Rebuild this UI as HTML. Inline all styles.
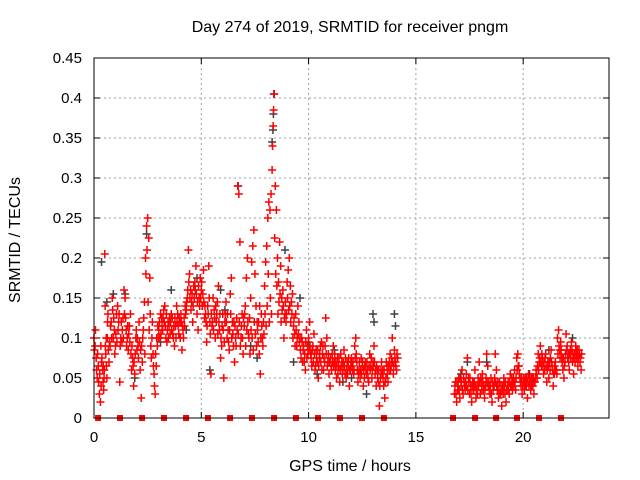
<!DOCTYPE html>
<html><head><meta charset="utf-8"><style>
html,body{margin:0;padding:0;background:#fff;}
svg{display:block;font-family:"Liberation Sans",sans-serif;}
</style></head><body>
<svg id="chart" width="640" height="480" viewBox="0 0 640 480" xmlns="http://www.w3.org/2000/svg">
<rect width="640" height="480" fill="#fff"/>
<text x="350" y="32" font-size="16" text-anchor="middle">Day 274 of 2019, SRMTID for receiver pngm</text>
<text x="0" y="0" font-size="16" text-anchor="middle" transform="translate(20,240) rotate(-90)">SRMTID / TECUs</text>
<text x="350" y="471" font-size="16" text-anchor="middle">GPS time / hours</text>
<g id="grid"></g>
<g id="ticks"></g>
<g id="gray"></g>
<g id="red"></g>
<g id="sq"></g>
<rect x="94" y="58" width="515" height="360" fill="none" stroke="#000" stroke-width="1"/>
</svg>
<script>
const xTicks=[0,5,10,15,20];
const yTicks=[0,0.05,0.1,0.15,0.2,0.25,0.3,0.35,0.4,0.45];
const yTickLabels=["0","0.05","0.1","0.15","0.2","0.25","0.3","0.35","0.4","0.45"];
const redT=[0.0,0.05,0.1,0.15,0.2,0.25,0.3,0.32,0.35,0.4,0.42,0.45,0.48,0.5,0.52,0.55,0.58,0.6,0.62,0.65,0.7,0.75,0.8,0.85,0.9,0.95,1.0,1.05,1.1,1.15,1.2,1.25,1.3,1.35,1.4,1.45,1.5,1.55,1.6,1.65,1.7,1.75,1.8,1.85,1.9,1.95,2.0,2.05,2.1,2.15,2.2,2.25,2.3,2.35,2.4,2.45,2.5,2.55,2.6,2.65,2.7,2.75,2.8,2.85,2.9,2.95,3.0,3.05,3.1,3.15,3.2,3.25,3.3,3.35,3.4,3.45,3.5,3.55,3.6,3.65,3.7,3.75,3.8,3.85,3.9,3.95,4.0,4.05,4.1,4.15,4.2,4.25,4.3,4.35,4.4,4.45,4.5,4.55,4.6,4.65,4.7,4.75,4.8,4.85,4.9,4.95,5.0,5.05,5.1,5.15,5.2,5.25,5.3,5.35,5.4,5.45,5.5,5.55,5.6,5.65,5.7,5.75,5.8,5.85,5.9,5.95,6.0,6.05,6.1,6.15,6.2,6.25,6.3,6.35,6.4,6.45,6.5,6.55,6.6,6.65,6.7,6.75,6.8,6.85,6.9,6.95,7.0,7.05,7.1,7.15,7.2,7.25,7.3,7.35,7.4,7.45,7.5,7.55,7.6,7.65,7.7,7.75,7.8,7.85,7.9,7.95,8.0,8.05,8.1,8.15,8.2,8.25,8.3,8.32,8.35,8.37,8.4,8.45,8.5,8.55,8.6,8.65,8.7,8.75,8.8,8.85,8.9,8.95,9.0,9.05,9.1,9.15,9.2,9.25,9.3,9.35,9.4,9.45,9.5,9.55,9.6,9.65,9.7,9.75,9.8,9.85,9.9,9.95,10.0,10.05,10.1,10.15,10.2,10.25,10.3,10.35,10.4,10.45,10.5,10.55,10.6,10.65,10.7,10.75,10.8,10.85,10.9,10.95,11.0,11.05,11.1,11.15,11.2,11.25,11.3,11.35,11.4,11.45,11.5,11.55,11.6,11.65,11.7,11.75,11.8,11.85,11.9,11.95,12.0,12.05,12.1,12.15,12.2,12.25,12.3,12.35,12.4,12.45,12.5,12.55,12.6,12.65,12.7,12.75,12.8,12.85,12.9,12.95,13.0,13.05,13.1,13.15,13.2,13.25,13.3,13.35,13.4,13.45,13.5,13.55,13.6,13.65,13.7,13.75,13.8,13.85,13.9,13.95,14.0,14.05,14.1,14.15,
16.8,16.85,16.9,16.95,17.0,17.05,17.1,17.15,17.2,17.25,17.3,17.35,17.4,17.45,17.5,17.55,17.6,17.65,17.7,17.75,17.8,17.85,17.9,17.95,18.0,18.05,18.1,18.15,18.2,18.25,18.3,18.35,18.4,18.45,18.5,18.55,18.6,18.65,18.7,18.75,18.8,18.85,18.9,18.95,19.0,19.05,19.1,19.15,19.2,19.25,19.3,19.35,19.4,19.45,19.5,19.55,19.6,19.65,19.7,19.75,19.8,19.85,19.9,19.95,20.0,20.05,20.1,20.15,20.2,20.25,20.3,20.35,20.4,20.45,20.5,20.55,20.6,20.65,20.7,20.75,20.8,20.85,20.9,20.95,21.0,21.05,21.1,21.15,21.2,21.25,21.3,21.35,21.4,21.45,21.5,21.55,21.6,21.65,21.7,21.75,21.8,21.85,21.9,21.95,22.0,22.05,22.1,22.15,22.2,22.25,22.3,22.35,22.4,22.45,22.5,22.55,22.6,22.65,22.7,22.72];
const redV=[.1,.09,.075,.05,.065,.03,.02,.09,.07,.06,.045,.035,.06,.205,.14,.08,.065,.05,.1,.13,.07,.09,.12,.15,.1,.11,.09,.13,.14,.12,.045,.1,.095,.125,.16,.15,.11,.1,.085,.115,.13,.06,.075,.04,.055,.1,.085,.09,.12,.06,.025,.07,.11,.145,.2,.24,.25,.225,.175,.09,.1,.08,.055,.03,.065,.09,.1,.12,.13,.125,.11,.135,.14,.1,.095,.12,.115,.105,.13,.125,.1,.09,.115,.14,.13,.105,.12,.13,.085,.11,.125,.14,.135,.15,.21,.18,.16,.145,.12,.165,.17,.19,.13,.11,.15,.175,.16,.14,.185,.125,.13,.095,.14,.19,.12,.055,.115,.15,.135,.1,.12,.145,.165,.11,.075,.09,.13,.05,.12,.145,.1,.11,.085,.155,.175,.12,.09,.07,.1,.125,.29,.28,.22,.1,.13,.08,.115,.14,.175,.2,.105,.125,.15,.195,.215,.235,.18,.14,.12,.095,.08,.055,.13,.1,.12,.165,.195,.215,.25,.27,.26,.28,.31,.34,.365,.385,.405,.29,.26,.2,.17,.22,.19,.15,.16,.1,.13,.12,.17,.185,.2,.165,.145,.155,.115,.105,.13,.09,.14,.12,.1,.075,.095,.085,.07,.06,.11,.09,.1,.12,.08,.065,.09,.105,.06,.085,.07,.05,.075,.09,.095,.08,.06,.07,.125,.1,.07,.055,.04,.065,.08,.09,.07,.06,.05,.075,.065,.045,.08,.07,.06,.085,.055,.05,.07,.065,.04,.06,.075,.06,.055,.09,.1,.07,.045,.06,.05,.075,.065,.04,.05,.07,.055,.06,.045,.08,.065,.05,.07,.09,.055,.04,.06,.045,.015,.05,.07,.06,.04,.025,.05,.065,.045,.06,.08,.065,.1,.055,.085,.07,.06,.075,
.03,.045,.02,.035,.05,.025,.04,.06,.03,.045,.035,.055,.075,.05,.03,.04,.02,.045,.035,.06,.025,.04,.05,.07,.03,.045,.055,.035,.025,.04,.08,.065,.045,.03,.05,.02,.035,.04,.08,.06,.035,.025,.045,.03,.015,.04,.05,.03,.02,.035,.045,.03,.055,.04,.035,.05,.06,.035,.075,.08,.065,.05,.04,.03,.045,.035,.05,.04,.025,.055,.045,.035,.05,.04,.03,.045,.06,.05,.08,.07,.09,.065,.075,.055,.06,.08,.045,.07,.05,.06,.085,.065,.04,.055,.07,.06,.1,.11,.085,.095,.075,.06,.05,.07,.105,.09,.08,.06,.085,.095,.07,.055,.08,.09,.075,.065,.085,.07,.06,.08];
const redT2=[0.02,0.07,0.12,0.17,0.22,0.27,0.33,0.37,0.43,0.47,0.53,0.57,0.63,0.67,0.72,0.77,0.82,0.87,0.92,0.97,1.02,1.07,1.12,1.17,1.22,1.27,1.32,1.37,1.42,1.47,1.52,1.57,1.62,1.67,1.72,1.77,1.82,1.87,1.92,1.97,2.02,2.07,2.12,2.17,
2.22,2.27,2.32,2.37,2.42,2.47,2.52,2.57,2.62,2.67,2.72,2.77,2.82,2.87,2.92,2.97,3.02,3.07,3.12,3.17,3.22,3.27,3.32,3.37,3.42,3.47,3.52,3.57,3.62,3.67,3.72,3.77,3.82,3.87,3.92,3.97,4.02,4.07,4.12,4.17,
4.22,4.27,4.32,4.37,4.42,4.47,4.52,4.57,4.62,4.67,4.72,4.77,4.82,4.87,4.92,4.97,5.02,5.07,5.12,5.17,5.22,5.27,5.32,5.37,5.42,5.47,5.52,5.57,5.62,5.67,5.72,5.77,5.82,5.87,5.92,5.97,6.02,6.07,6.12,6.17,
6.22,6.27,6.32,6.37,6.42,6.47,6.52,6.57,6.62,6.67,6.72,6.77,6.82,6.87,6.92,6.97,7.02,7.07,7.12,7.17,7.22,7.27,7.32,7.37,7.42,7.47,7.52,7.57,7.62,7.67,7.72,7.77,7.82,7.87,7.92,7.97,8.02,8.07,8.12,8.17,
8.22,8.27,8.42,8.47,8.52,8.57,8.62,8.67,8.72,8.77,8.82,8.87,8.92,8.97,9.02,9.07,9.12,9.17,9.22,9.27,9.32,9.37,9.42,9.47,9.52,9.57,9.62,9.67,9.72,9.77,9.82,9.87,9.92,9.97,10.02,10.07,10.12,10.17,10.22,10.27,10.32,10.37,10.42,10.47,10.52,10.57,10.62,10.67,10.72,10.77,10.82,10.87,10.92,10.97,11.02,11.07,11.12,11.17,11.22,11.27,11.32,11.37,11.42,11.47,11.52,11.57,11.62,11.67,11.72,11.77,11.82,11.87,11.92,11.97,12.02,12.07,12.12,12.17,12.22,12.27,12.32,12.37,12.42,12.47,12.52,12.57,12.62,12.67,12.72,12.77,12.82,12.87,12.92,12.97,13.02,13.07,13.12,13.17,13.22,13.27,13.32,13.37,13.42,13.47,13.52,13.57,13.62,13.67,13.72,13.77,13.82,13.87,13.92,13.97,14.02,14.07,14.12,
16.82,16.87,16.92,16.97,17.02,17.07,17.12,17.17,17.22,17.27,17.32,17.37,17.42,17.47,17.52,17.57,17.62,17.67,17.72,17.77,17.82,17.87,17.92,17.97,18.02,18.07,18.12,18.17,18.22,18.27,18.32,18.37,18.42,18.47,18.52,18.57,18.62,18.67,18.72,18.77,18.82,18.87,18.92,18.97,19.02,19.07,19.12,19.17,19.22,19.27,19.32,19.37,19.42,19.47,19.52,19.57,19.62,19.67,19.72,19.77,19.82,19.87,19.92,19.97,20.02,20.07,20.12,20.17,20.22,20.27,20.32,20.37,20.42,20.47,20.52,20.57,20.62,20.67,20.72,20.77,20.82,20.87,20.92,20.97,21.02,21.07,21.12,21.17,21.22,21.27,21.32,21.37,21.42,21.47,21.52,21.57,21.62,21.67,21.72,21.77,21.82,21.87,21.92,21.97,22.02,22.07,22.12,22.17,22.22,22.27,22.32,22.37,22.42,22.47,22.52,22.57,22.62,22.67];
const redV2=[.085,.11,.06,.08,.045,.055,.04,.075,.065,.05,.09,.1,.12,.085,.095,.115,.1,.135,.125,.08,.105,.095,.11,.13,.09,.12,.11,.1,.13,.125,.09,.115,.105,.095,.08,.09,.065,.07,.08,.11,.1,.075,.095,.085,
.09,.1,.125,.08,.18,.21,.145,.11,.13,.075,.12,.065,.04,.08,.1,.115,.11,.1,.105,.115,.125,.12,.115,.13,.11,.1,.125,.12,.11,.105,.115,.125,.1,.12,.115,.125,.1,.12,.115,.1,
.115,.13,.145,.16,.17,.15,.135,.155,.14,.15,.16,.155,.145,.165,.14,.15,.17,.155,.145,.14,.12,.115,.13,.15,.105,.13,.12,.11,.125,.14,.13,.105,.12,.13,.1,.115,.11,.095,.13,.12,
.13,.095,.11,.13,.1,.105,.12,.115,.09,.11,.105,.12,.09,.115,.1,.125,.13,.09,.11,.12,.1,.08,.11,.1,.085,.12,.105,.09,.11,.12,.14,.1,.115,.09,.105,.13,.115,.14,.18,.12,
.15,.13,.225,.18,.165,.13,.145,.155,.12,.135,.14,.125,.145,.13,.15,.135,.14,.12,.13,.1,.125,.09,.11,.1,.105,.095,.085,.1,.07,.09,.08,.095,.075,.08,.085,.09,.075,.085,.07,.08,.065,.075,.085,.065,.08,.07,.06,.09,.075,.09,.08,.065,.08,.07,.075,.06,.07,.065,.08,.07,.065,.055,.075,.06,.065,.055,.07,.065,.075,.06,.055,.075,.06,.07,.065,.07,.06,.075,.08,.06,.055,.07,.06,.055,.07,.06,.065,.06,.07,.05,.065,.06,.075,.06,.065,.07,.06,.065,.05,.06,.04,.06,.055,.05,.06,.045,.07,.055,.065,.07,.06,.075,.07,.065,.075,.065,.08,
.04,.03,.045,.04,.035,.05,.045,.035,.05,.04,.045,.04,.035,.045,.05,.03,.04,.035,.045,.04,.035,.03,.04,.045,.05,.035,.045,.04,.035,.05,.045,.04,.035,.04,.03,.045,.04,.05,.045,.04,.045,.035,.03,.04,.035,.03,.04,.045,.035,.04,.035,.045,.04,.05,.045,.04,.045,.05,.06,.065,.055,.045,.05,.04,.05,.045,.04,.05,.045,.04,.05,.045,.04,.05,.045,.05,.055,.065,.06,.075,.07,.08,.065,.07,.075,.065,.06,.065,.07,.075,.07,.06,.055,.065,.06,.055,.08,.09,.075,.085,.07,.075,.065,.08,.085,.075,.07,.08,.075,.085,.08,.075,.07,.08,.085,.075,.08,.075];
const grayT=[0.35,0.6,1.45,2.45,3.6,4.8,5.4,6.1,6.72,7.3,7.6,8.38,8.36,8.34,8.3,8.9,9.3,10.0,10.4,11.2,12.0,13.0,13.05,14.0,14.05,17.1,17.4,18.3,19.5,20.3,21.2,22.3,3.1,4.3,5.9,9.6,11.6,12.7,1.9,0.9];
const grayV=[.195,.145,.155,.23,.16,.175,.06,.135,.29,.09,.075,.405,.38,.36,.345,.21,.07,.095,.055,.085,.05,.13,.12,.13,.115,.055,.07,.07,.045,.055,.085,.1,.095,.11,.16,.15,.045,.03,.05,.155];
const arcT=[0.19,1.21,2.24,3.26,4.29,5.31,6.34,7.36,8.39,9.41,10.44,11.46,12.49,13.51,16.73,17.76,18.74,19.71,20.74,21.76];

const NS="http://www.w3.org/2000/svg";
const X0=94,X1=609,Y0=418,Y1=58,XMAX=24,YMAX=0.45;
function xs(t){return X0+t/XMAX*(X1-X0);}
function ys(v){return Y0-v/YMAX*(Y0-Y1);}
function mk(tag,attrs,parent){const e=document.createElementNS(NS,tag);for(const k in attrs)e.setAttribute(k,attrs[k]);parent.appendChild(e);return e;}
const grid=document.getElementById('grid'),ticks=document.getElementById('ticks');
yTicks.forEach((v,i)=>{
  const y=ys(v);
  if(i>0&&i<yTicks.length-1){const g=mk('line',{x1:X0,x2:X1,y1:y,y2:y,stroke:'#a0a0a0','stroke-dasharray':'2,3'},grid);
  
  }
  mk('line',{x1:X0,x2:X0+6,y1:y,y2:y,stroke:'#000'},ticks);
  mk('line',{x1:X1-6,x2:X1,y1:y,y2:y,stroke:'#000'},ticks);
  const t=mk('text',{x:X0-12,y:y+5,'font-size':15,'text-anchor':'end'},ticks);
  t.textContent=yTickLabels[i];
  
  
});
xTicks.forEach(h=>{
  const x=xs(h);
  if(h>0){const g=mk('line',{x1:x,x2:x,y1:Y1,y2:Y0,stroke:'#a0a0a0','stroke-dasharray':'2,3'},grid);
  
  }
  mk('line',{x1:x,x2:x,y1:Y0-6,y2:Y0,stroke:'#000'},ticks);
  mk('line',{x1:x,x2:x,y1:Y1,y2:Y1+6,stroke:'#000'},ticks);
  const t=mk('text',{x:x,y:Y0+24,'font-size':15,'text-anchor':'middle'},ticks);
  t.textContent=String(h);
  
  
});
function plus(parent,t,v,color,name){
  const x=xs(t),y=ys(v);
  const p=mk('path',{d:`M${x-4},${y}H${x+4}M${x},${y-4}V${y+4}`,stroke:color,'stroke-width':1.5,fill:'none'},parent);
  
  
}
const gray=document.getElementById('gray'),red=document.getElementById('red'),sq=document.getElementById('sq');
grayT.forEach((t,i)=>plus(gray,t,grayV[i],'#404040','gray-point'));
redT.forEach((t,i)=>plus(red,t,redV[i],'#ff0000','red-point'));
redT2.forEach((t,i)=>plus(red,t,redV2[i],'#ff0000','red-point'));
arcT.forEach(t=>{
  const r=mk('rect',{x:xs(t)-3,y:Y0-3,width:6,height:6,fill:'#ff0000'},sq);
  
  
});
</script>
</body></html>
